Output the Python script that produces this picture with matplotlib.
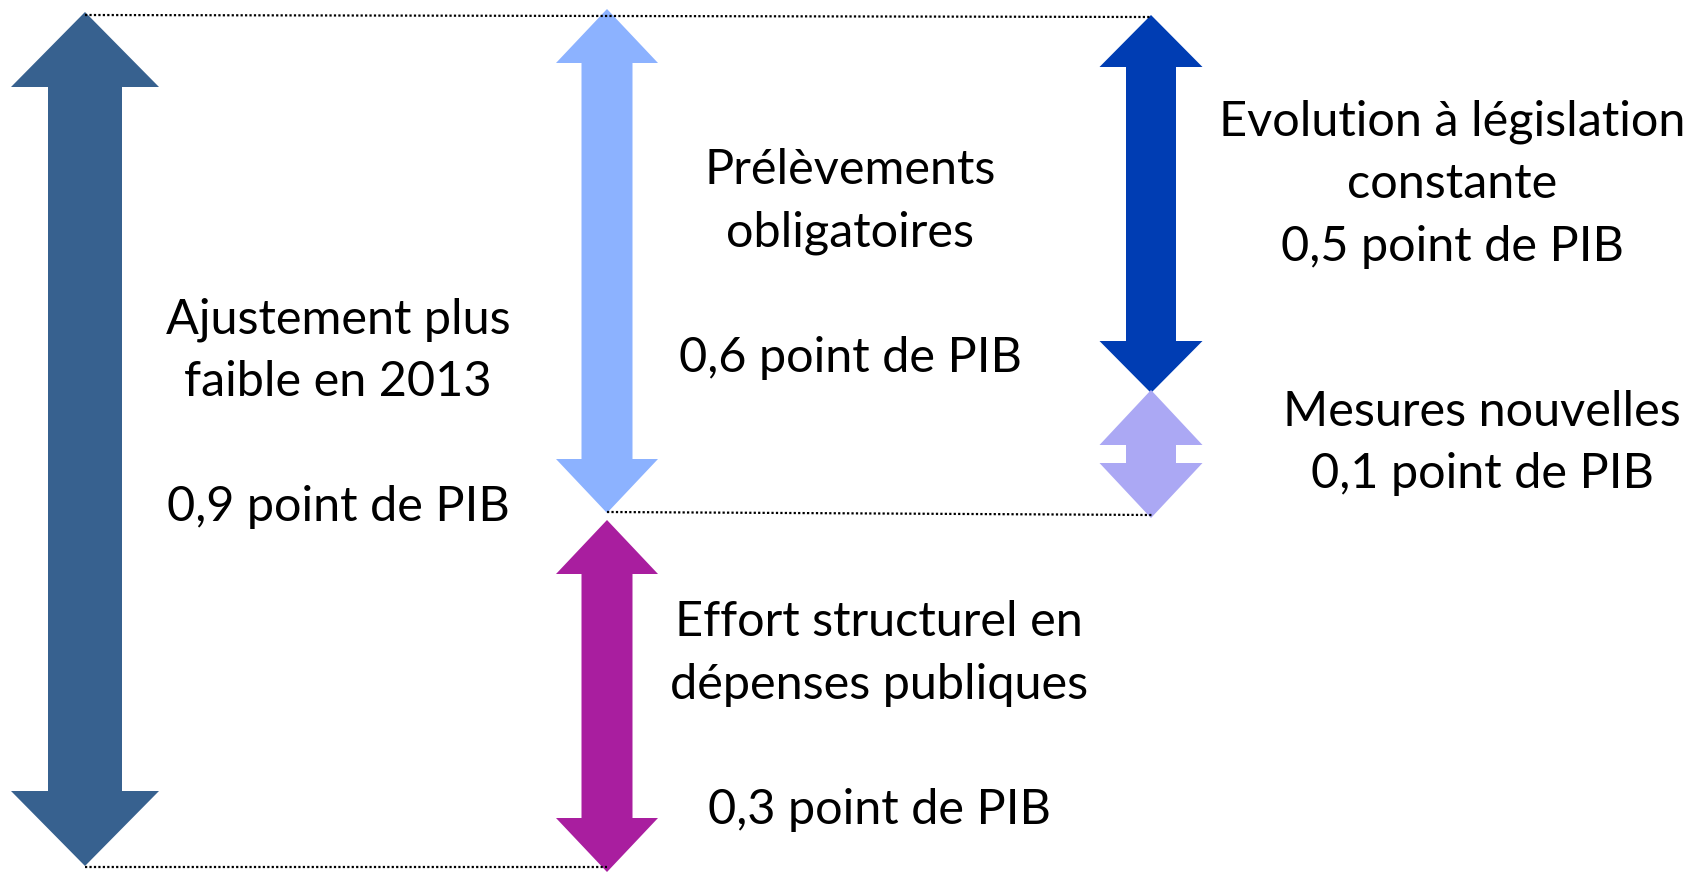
import matplotlib
matplotlib.use("Agg")
import matplotlib.pyplot as plt
from matplotlib.patches import Polygon

# ---- data ----
labels = [
    "Ajustement plus\nfaible en 2013\n\n0,9 point de PIB",
    "Prélèvements\nobligatoires\n\n0,6 point de PIB",
    "Effort structurel en\ndépenses publiques\n\n0,3 point de PIB",
    "Evolution à législation\nconstante\n0,5 point de PIB",
    "Mesures nouvelles\n0,1 point de PIB",
]
values = [0.9, 0.6, 0.3, 0.5, 0.1]
colors = ["#37618F", "#8CB2FF", "#A91E9F", "#003DB3", "#ABA8F4"]

# ---- layout (pixel canvas) ----
W, H = 1692, 872
# arrow: center x, top y, bottom y, head half-width, shaft half-width, head length
arrows = [
    (85, 12, 866, 74, 37, 75),
    (607, 9, 513, 51, 25.5, 54),
    (607, 520, 872, 51, 25.5, 54),
    (1151, 15, 393, 51.5, 25, 52),
    (1151, 390, 518, 51.5, 25, 55),
]
# text block: center x, center y
text_pos = [(338, 413), (850, 264), (879, 716), (1452, 184), (1482, 443)]
line_gap = 62.5
dotted = [((85, 15), (1151, 17)), ((85, 867), (607, 867)), ((607, 512), (1152, 515))]

fig = plt.figure(figsize=(W / 100, H / 100), dpi=100)
ax = fig.add_axes([0, 0, 1, 1])
ax.set_xlim(0, W)
ax.set_ylim(H, 0)
ax.axis("off")


def dbl_arrow(cx, top, bot, hw, sw, hl):
    return [
        (cx, top), (cx + hw, top + hl), (cx + sw, top + hl),
        (cx + sw, bot - hl), (cx + hw, bot - hl), (cx, bot),
        (cx - hw, bot - hl), (cx - sw, bot - hl), (cx - sw, top + hl),
        (cx - hw, top + hl),
    ]


for (cx, top, bot, hw, sw, hl), col in zip(arrows, colors):
    ax.add_patch(Polygon(dbl_arrow(cx, top, bot, hw, sw, hl), closed=True,
                         facecolor=col, edgecolor="none", zorder=2))

for (p0, p1) in dotted:
    ax.plot([p0[0], p1[0]], [p0[1], p1[1]], color="black", lw=1.6,
            linestyle=(0, (1, 1)), zorder=3)

for lab, (tx, ty) in zip(labels, text_pos):
    lines = lab.split("\n")
    n = len(lines)
    for i, ln in enumerate(lines):
        if not ln:
            continue
        y = ty + (i - (n - 1) / 2) * line_gap
        ax.text(tx, y, ln, ha="center", va="center", fontsize=35,
                family=["Lato", "DejaVu Sans"], color="black", zorder=4)

fig.savefig("out.png", dpi=100)
